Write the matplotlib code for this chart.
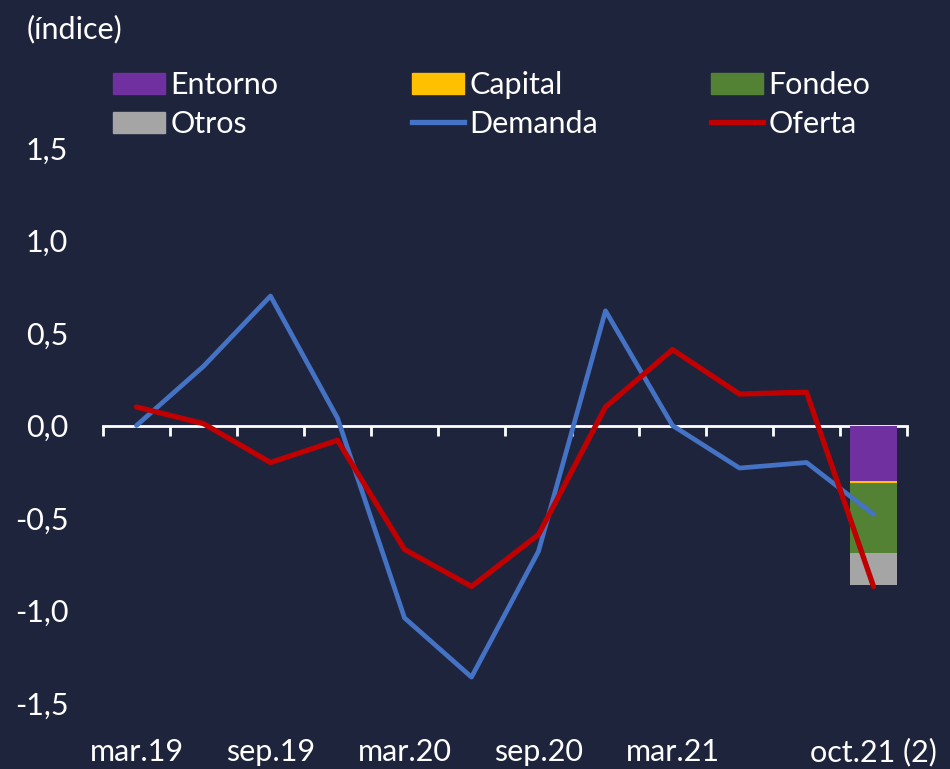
import matplotlib
matplotlib.use("Agg")
import matplotlib.pyplot as plt
import numpy as np
from matplotlib.patches import Patch
from matplotlib.lines import Line2D

# ---- data ----
categories = ["mar.19", "jun.19", "sep.19", "dec.19", "mar.20", "jun.20",
              "sep.20", "dec.20", "mar.21", "jun.21", "sep.21", "oct.21 (2)"]
shown_labels = ["mar.19", "", "sep.19", "", "mar.20", "", "sep.20", "",
                "mar.21", "", "", "oct.21 (2)"]
demanda = [0.00, 0.32, 0.70, 0.04, -1.04, -1.36, -0.68, 0.62, 0.00, -0.23, -0.20, -0.48]
oferta = [0.10, 0.01, -0.20, -0.08, -0.67, -0.87, -0.59, 0.10, 0.41, 0.17, 0.18, -0.87]
bar_category = "oct.21 (2)"
entorno = -0.30
capital = -0.01
fondeo = -0.38
otros = -0.17
yticks = [-1.5, -1.0, -0.5, 0.0, 0.5, 1.0, 1.5]

# ---- style ----
BG = "#1f243d"
C_ENT, C_CAP, C_FON, C_OTR = "#7030A0", "#FFC000", "#548235", "#A5A5A5"
C_DEM, C_OFE = "#4472C4", "#C00000"
plt.rcParams["font.family"] = ["Lato", "DejaVu Sans"]
FS = 22

W, H = 950, 769
fig = plt.figure(figsize=(W / 100, H / 100), dpi=100, facecolor=BG)
ax = fig.add_axes([103 / W, 1 - 703 / H, (907 - 103) / W, (703 - 148) / H])
ax.set_facecolor(BG)

x = np.arange(len(categories))
bi = categories.index(bar_category)
bw = 0.7
bottom = 0.0
for val, col in [(entorno, C_ENT), (capital, C_CAP), (fondeo, C_FON), (otros, C_OTR)]:
    ax.bar(x[bi], val, bottom=bottom, width=bw, color=col, zorder=2)
    bottom += val

ax.plot(x, demanda, color=C_DEM, lw=3.4, zorder=3, solid_capstyle="round")
ax.plot(x, oferta, color=C_OFE, lw=3.8, zorder=4, solid_capstyle="round")

ax.set_xlim(-0.5, len(categories) - 0.5)
ax.set_ylim(-1.5, 1.5)

for s in ["left", "right", "top"]:
    ax.spines[s].set_visible(False)
ax.spines["bottom"].set_position(("data", 0))
ax.spines["bottom"].set_color("white")
ax.spines["bottom"].set_linewidth(2)
ax.spines["bottom"].set_zorder(1)
ax.set_xticks(np.arange(-0.5, len(categories), 1.0))
ax.set_xticklabels([])
ax.tick_params(axis="x", direction="out", length=7, width=2, color="white")

ax.set_yticks(yticks)
ax.set_yticklabels([f"{v:.1f}".replace(".", ",") for v in yticks])
ax.tick_params(axis="y", length=0, pad=25, labelsize=FS, labelcolor="white")

for xi, lab in zip(x, shown_labels):
    if lab:
        ax.annotate(lab, xy=(xi, 0), xycoords=("data", "axes fraction"),
                    xytext=(0, -49), textcoords="offset pixels",
                    ha="center", va="center", color="white", fontsize=FS)

fig.text(27 / W, 1 - 29 / H, "(índice)", color="white", fontsize=FS,
         ha="left", va="center")

# ---- legend (three columns) ----
cols = [
    (113, [Patch(color=C_ENT), Patch(color=C_OTR)], ["Entorno", "Otros"]),
    (412, [Patch(color=C_CAP), Line2D([], [], color=C_DEM, lw=3.8)], ["Capital", "Demanda"]),
    (711, [Patch(color=C_FON), Line2D([], [], color=C_OFE, lw=3.8)], ["Fondeo", "Oferta"]),
]
for px, hs, ls in cols:
    leg = fig.legend(hs, ls, loc="upper left", bbox_to_anchor=(px / W, 1 - 71 / H),
                     frameon=False, fontsize=FS, handlelength=1.7, handleheight=0.7,
                     handletextpad=0.18, labelspacing=0.36, borderpad=0, borderaxespad=0)
    for t in leg.get_texts():
        t.set_color("white")

fig.savefig("out.png", dpi=100, facecolor=BG)
